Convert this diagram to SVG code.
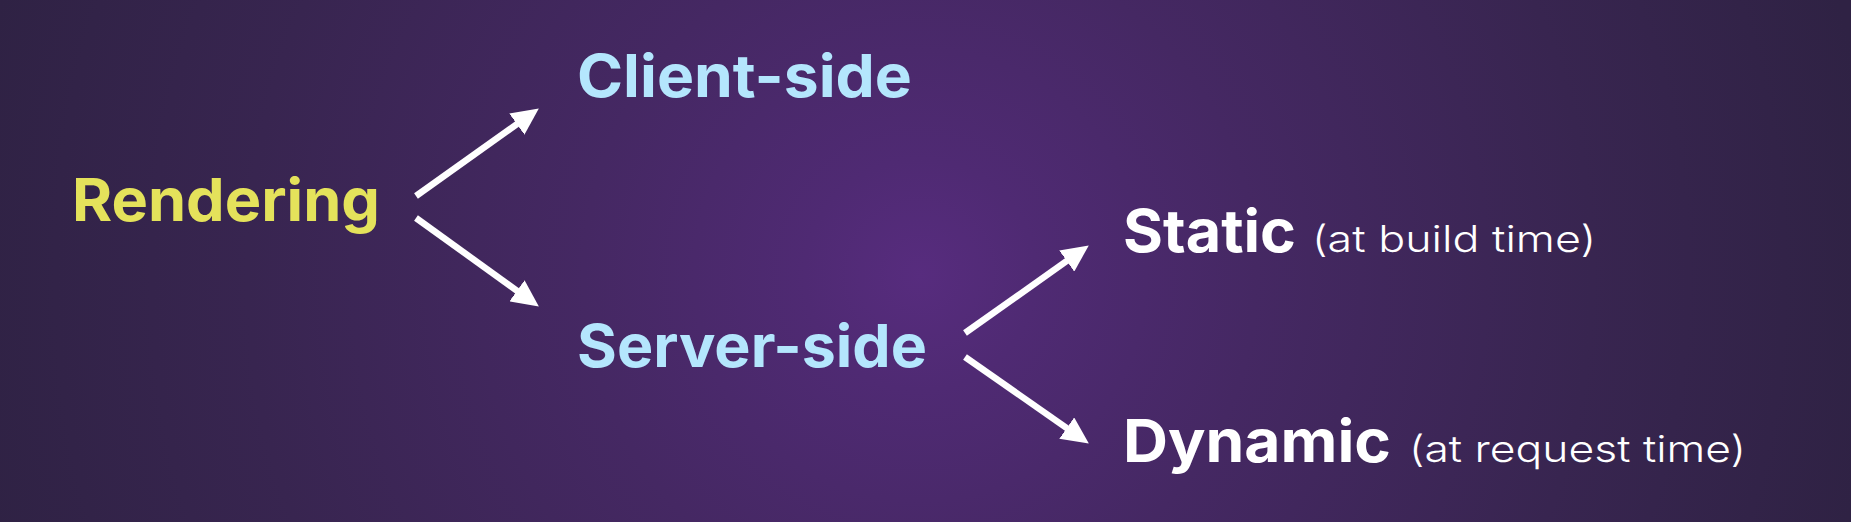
<svg xmlns="http://www.w3.org/2000/svg" width="1851" height="522" viewBox="0 0 1851 522">
  <defs>
    <radialGradient id="bg" gradientUnits="userSpaceOnUse" cx="920" cy="275" r="960">
      <stop offset="0" stop-color="#572c7e"/>
      <stop offset="0.12" stop-color="#4f2a73"/>
      <stop offset="0.35" stop-color="#452863"/>
      <stop offset="0.7" stop-color="#382550"/>
      <stop offset="1" stop-color="#2f2244"/>
    </radialGradient>
    <marker id="head" markerUnits="userSpaceOnUse" markerWidth="27" markerHeight="26" viewBox="0 0 27 26" refX="4" refY="13" orient="auto">
      <path d="M0,0 L27,13 L0,26 Z" fill="#ffffff"/>
    </marker>
    <style>
      .main { font-family: Inter, "Noto Sans", "Liberation Sans", sans-serif; font-weight: 700; font-size: 59px; }
      .sub { font-family: Inter, "Noto Sans", "Liberation Sans", sans-serif; font-weight: 300; font-size: 37px; fill: #ffffff; }
      .yellow { fill: #e4e25b; }
      .blue { fill: #b4e6fd; }
      .white { fill: #ffffff; }
      .arrow { stroke: #ffffff; stroke-width: 6.5; fill: none; marker-end: url(#head); }
    </style>
  </defs>
  <rect x="0" y="0" width="1851" height="522" fill="url(#bg)"/>

  <g id="node-rendering">
    <text class="main yellow" x="72" y="221" textLength="308" lengthAdjust="spacingAndGlyphs">Rendering</text>
  </g>
  <g id="node-client-side">
    <text class="main blue" x="577" y="97" textLength="335" lengthAdjust="spacingAndGlyphs">Client-side</text>
  </g>
  <g id="node-server-side">
    <text class="main blue" x="577" y="367" textLength="350" lengthAdjust="spacingAndGlyphs">Server-side</text>
  </g>
  <g id="node-static">
    <text class="main white" x="1123" y="252" font-size="57" textLength="173" lengthAdjust="spacingAndGlyphs">Static</text>
    <text class="sub" x="1312" y="252" textLength="284" lengthAdjust="spacingAndGlyphs">(at build time)</text>
  </g>
  <g id="node-dynamic">
    <text class="main white" x="1123" y="462" font-size="57" textLength="268" lengthAdjust="spacingAndGlyphs">Dynamic</text>
    <text class="sub" x="1409" y="462" textLength="337" lengthAdjust="spacingAndGlyphs">(at request time)</text>
  </g>

  <g id="connectors">
    <line class="arrow" x1="416" y1="196" x2="520.1" y2="121.8"/>
    <line class="arrow" x1="416" y1="218" x2="520.2" y2="293.1"/>
    <line class="arrow" x1="965" y1="333" x2="1070.0" y2="258.7"/>
    <line class="arrow" x1="965" y1="357" x2="1070.0" y2="430.4"/>
  </g>
</svg>
